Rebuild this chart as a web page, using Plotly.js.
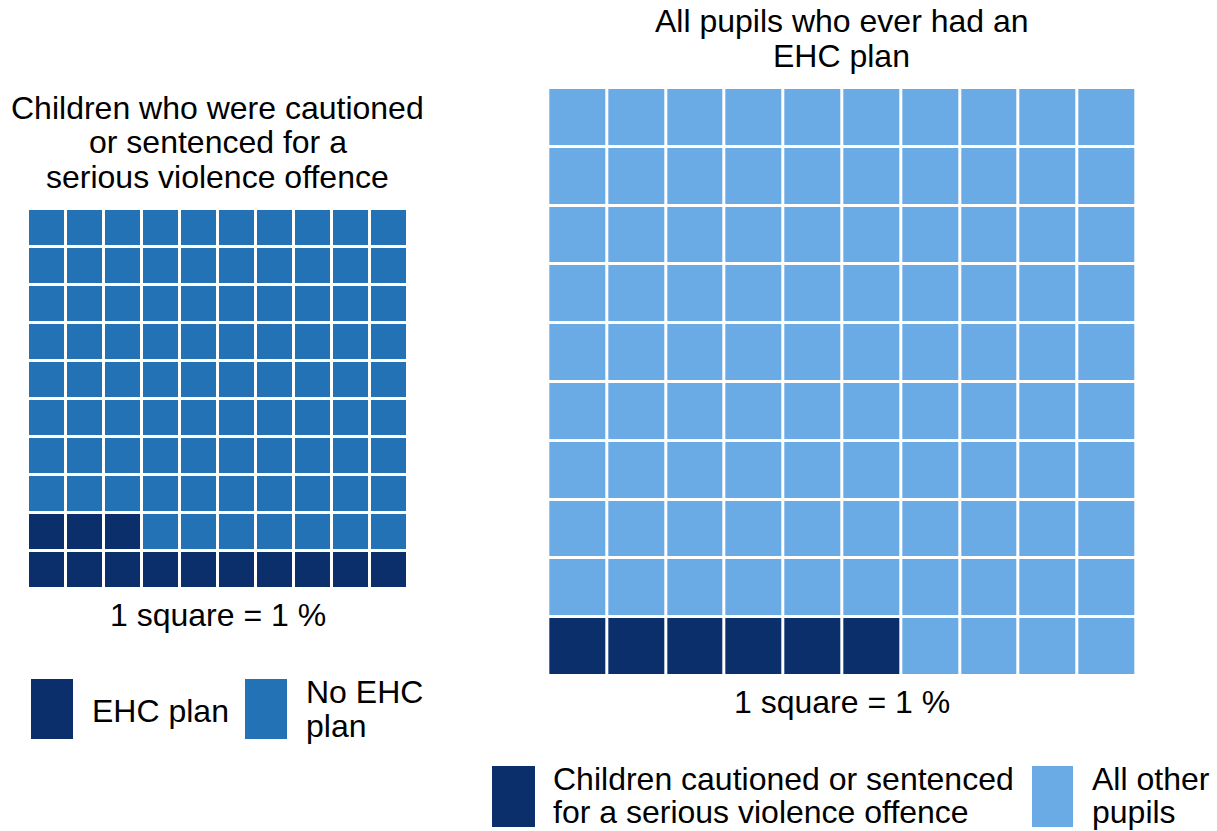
<!DOCTYPE html>
<html>
<head>
<meta charset="utf-8">
<script src="https://cdn.plot.ly/plotly-3.0.1.min.js"></script>
<style>
  html, body { margin: 0; padding: 0; background: #ffffff; }
  #chart { width: 1217px; height: 831px; }
</style>
</head>
<body>
<div id="chart"></div>
<script>
// ---- Data ----
const leftTitleLines = ['Children who were cautioned', 'or sentenced for a', 'serious violence offence'];
const leftCategories = ['EHC plan', 'No EHC plan'];
const leftValues = [13, 87];
const leftLegendLines = [['EHC plan'], ['No EHC', 'plan']];

const rightTitleLines = ['All pupils who ever had an', 'EHC plan'];
const rightCategories = ['Children cautioned or sentenced for a serious violence offence', 'All other pupils'];
const rightValues = [6, 94];
const rightLegendLines = [['Children cautioned or sentenced', 'for a serious violence offence'], ['All other', 'pupils']];

const scaleNote = '1 square = 1 %';
const gridSize = 10;

// ---- Styles ----
const DARK = '#0a2f6b';
const MEDIUM = '#2272b5';
const LIGHT = '#6aaae5';
const FONT = 'Liberation Sans, Arial, sans-serif';
const FS = 32;
const W = 1217, H = 831;

function px2x(p) { return p / W; }
function px2y(p) { return 1 - p / H; }

// Build waffle grid from counts: fill from bottom-left, row by row
function buildGrid(values) {
  const z = [];
  for (let r = 0; r < gridSize; r++) {
    const row = [];
    for (let c = 0; c < gridSize; c++) {
      const idx = r * gridSize + c;
      let cat = 0, acc = 0;
      for (let k = 0; k < values.length; k++) {
        acc += values[k];
        if (idx < acc) { cat = k; break; }
        cat = k;
      }
      row.push(cat);
    }
    z.push(row);
  }
  return z;
}

function buildText(values, cats) {
  const z = buildGrid(values);
  return z.map(row => row.map(k => cats[k]));
}

const idx = Array.from({length: gridSize}, (_, i) => i);

const traces = [
  {
    type: 'heatmap',
    x: idx, y: idx,
    z: buildGrid(leftValues),
    text: buildText(leftValues, leftCategories),
    zmin: 0, zmax: 1,
    colorscale: [[0, DARK], [0.5, DARK], [0.5, MEDIUM], [1, MEDIUM]],
    showscale: false,
    xgap: 3, ygap: 3,
    hoverinfo: 'text',
    xaxis: 'x', yaxis: 'y'
  },
  {
    type: 'heatmap',
    x: idx, y: idx,
    z: buildGrid(rightValues),
    text: buildText(rightValues, rightCategories),
    zmin: 0, zmax: 1,
    colorscale: [[0, DARK], [0.5, DARK], [0.5, LIGHT], [1, LIGHT]],
    showscale: false,
    xgap: 3, ygap: 3,
    hoverinfo: 'text',
    xaxis: 'x2', yaxis: 'y2'
  }
];

const hiddenAxis = { visible: false, range: [-0.5, 9.5], fixedrange: true, showgrid: false, zeroline: false };

const annotations = [];
function addText(text, xpx, ypx, anchor) {
  annotations.push({
    text: text, xref: 'paper', yref: 'paper',
    x: px2x(xpx), y: px2y(ypx),
    xanchor: anchor || 'center', yanchor: 'middle',
    showarrow: false,
    font: { family: FONT, size: FS, color: '#000000' }
  });
}

// Left title
const leftTitleY = [107.5, 142, 176.5];
leftTitleLines.forEach((t, i) => addText(t, 217.5, leftTitleY[i]));
// Right title
const rightTitleY = [21.5, 55.5];
rightTitleLines.forEach((t, i) => addText(t, 841.5, rightTitleY[i]));
// Scale notes
addText(scaleNote, 218, 615);
addText(scaleNote, 842, 702);

// Legends
const shapes = [];
function addKey(color, x0, y0, x1, y1) {
  shapes.push({
    type: 'rect', xref: 'paper', yref: 'paper',
    x0: px2x(x0), x1: px2x(x1), y0: px2y(y1), y1: px2y(y0),
    fillcolor: color, line: { width: 0 }
  });
}
// Left legend
addKey(DARK, 31, 679, 73, 739);
addKey(MEDIUM, 245, 679, 287, 739);
addText(leftLegendLines[0][0], 90, 711, 'left');
addText(leftLegendLines[1][0], 304, 692, 'left');
addText(leftLegendLines[1][1], 304, 726, 'left');
// Right legend
addKey(DARK, 492, 766, 535, 827);
addKey(LIGHT, 1032, 766, 1073, 827);
addText(rightLegendLines[0][0], 551, 779, 'left');
addText(rightLegendLines[0][1], 551, 812, 'left');
addText(rightLegendLines[1][0], 1090, 779, 'left');
addText(rightLegendLines[1][1], 1090, 812, 'left');

const layout = {
  width: W, height: H,
  margin: { l: 0, r: 0, t: 0, b: 0, pad: 0 },
  paper_bgcolor: '#ffffff',
  plot_bgcolor: '#ffffff',
  showlegend: false,
  xaxis: Object.assign({}, hiddenAxis, { domain: [px2x(28), px2x(408)] }),
  yaxis: Object.assign({}, hiddenAxis, { domain: [px2y(589), px2y(209)] }),
  xaxis2: Object.assign({}, hiddenAxis, { domain: [px2x(548.3), px2x(1136.3)] }),
  yaxis2: Object.assign({}, hiddenAxis, { domain: [px2y(676), px2y(88)] }),
  annotations: annotations,
  shapes: shapes
};

Plotly.newPlot('chart', traces, layout, { displayModeBar: false, staticPlot: true });
</script>
</body>
</html>
